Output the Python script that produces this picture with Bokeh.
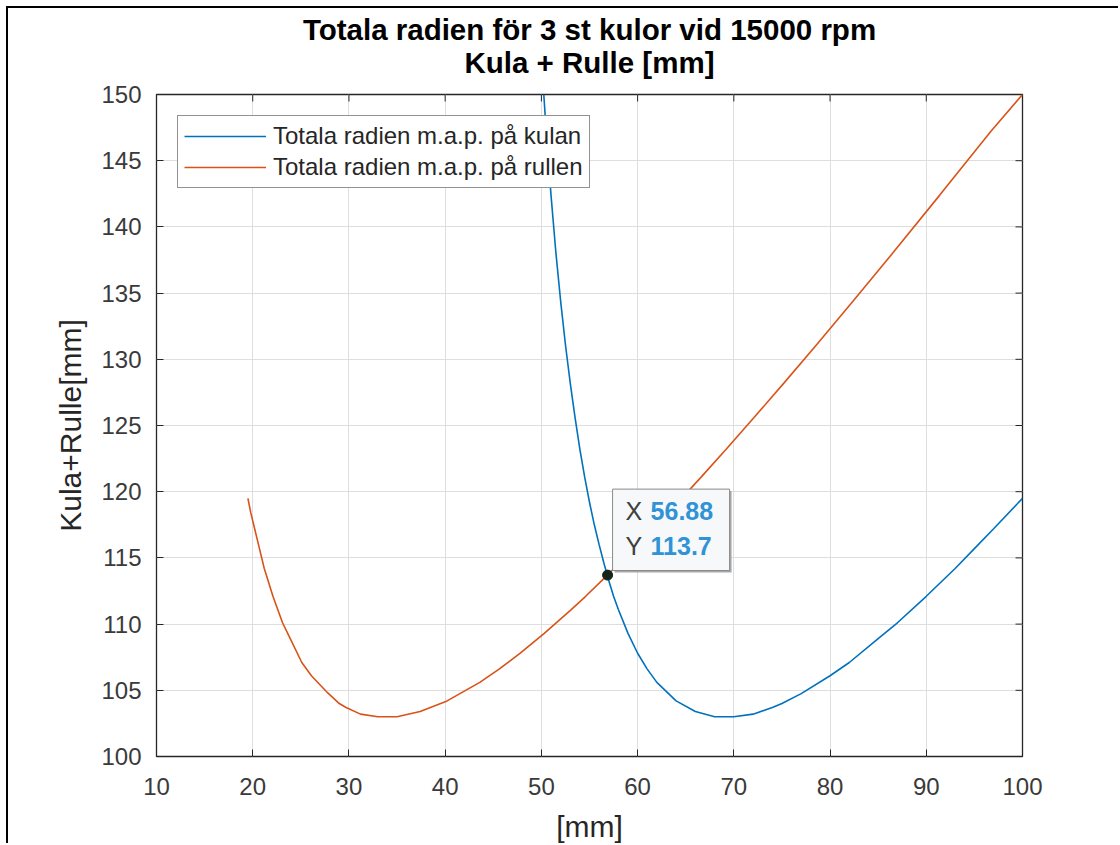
from bokeh.plotting import figure
from bokeh.models import Range1d, FixedTicker, Legend, LegendItem, Label, LinearAxis
from bokeh.embed import file_html
from bokeh.resources import INLINE

# ---------------- data ----------------
title_lines = ["Totala radien för 3 st kulor vid 15000 rpm", "Kula + Rulle [mm]"]
x_label = "[mm]"
y_label = "Kula+Rulle[mm]"
series_names = ["Totala radien m.a.p. på kulan", "Totala radien m.a.p. på rullen"]

x_ticks = [10, 20, 30, 40, 50, 60, 70, 80, 90, 100]
y_ticks = [100, 105, 110, 115, 120, 125, 130, 135, 140, 145, 150]

# total radius vs ball size (blue)
kula_x = [50.25, 50.5, 51, 51.5, 52, 52.5, 53, 53.5, 54, 54.5, 55, 55.5, 56, 56.5, 57, 57.5,
          58, 59, 60, 61, 62, 63, 64, 66, 68, 70, 72, 74, 75, 77, 80, 82, 85, 87, 90, 93, 95, 97, 100]
kula_y = [150.0, 147.2, 142.4, 138.1, 134.4, 131.1, 128.2, 125.6, 123.2, 121.1, 119.2, 117.5,
          116.0, 114.6, 113.3, 112.1, 111.1, 109.3, 107.8, 106.6, 105.6, 104.9, 104.2, 103.4,
          103.0, 103.0, 103.2, 103.7, 104.0, 104.75, 106.1, 107.1, 108.9, 110.1, 112.1, 114.2,
          115.7, 117.2, 119.5]

# total radius vs roller size (orange)
rulle_x = [19.5, 19.8, 20.2, 20.7, 21.2, 22.1, 23.1, 23.9, 25.1, 26.1, 27.8, 29.0, 29.7, 31.2,
           33.0, 35.0, 37.4, 40.2, 41.9, 43.6, 45.6, 47.8, 50.3, 53.1, 54.6, 56.3, 58.1, 60.0,
           62.0, 64.2, 66.6, 69.2, 72.1, 75.2, 78.6, 82.4, 86.6, 91.4, 96.7, 100.0]
rulle_y = [119.5, 118.4, 117.2, 115.7, 114.2, 112.1, 110.1, 108.9, 107.1, 106.1, 104.8, 104.0,
           103.7, 103.2, 103.0, 103.0, 103.4, 104.2, 104.9, 105.6, 106.6, 107.8, 109.3, 111.1,
           112.1, 113.3, 114.6, 116.0, 117.5, 119.2, 121.1, 123.2, 125.6, 128.2, 131.1, 134.4,
           138.1, 142.4, 147.2, 150.0]

tip_x = 56.88
tip_y = 113.7

# ---------------- styling ----------------
FONT = "Liberation Sans"
AX = "#262626"
BLUE = "#0072BD"
ORANGE = "#D95319"

W, H = 1112, 837
ML, MR, MT, MB = 148, 98, 86, 89
FW, FH = W - ML - MR, H - MT - MB

p = figure(width=W, height=H, output_backend="svg", toolbar_location=None, title=None,
           x_range=Range1d(x_ticks[0], x_ticks[-1]), y_range=Range1d(y_ticks[0], y_ticks[-1]),
           min_border_left=ML, min_border_right=MR, min_border_top=MT, min_border_bottom=MB,
           background_fill_color="white", border_fill_color="white")
p.styles = {"margin-top": "6px", "margin-left": "6px",
            "border-top": "2px solid #000000", "border-left": "2px solid #000000"}

p.xaxis.ticker = FixedTicker(ticks=x_ticks)
p.yaxis.ticker = FixedTicker(ticks=y_ticks)
p.xgrid.ticker = FixedTicker(ticks=x_ticks)
p.ygrid.ticker = FixedTicker(ticks=y_ticks)

for ax in p.axis:
    ax.axis_line_color = None
    ax.major_tick_in = 7
    ax.major_tick_out = 0
    ax.major_tick_line_color = AX
    ax.major_tick_line_width = 1
    ax.minor_tick_line_color = None
    ax.major_label_text_font = FONT
    ax.major_label_text_font_size = "24px"
    ax.major_label_text_color = "#3a3a3a"
    ax.axis_label_text_font = FONT
    ax.axis_label_text_font_size = "30px"
    ax.axis_label_text_font_style = "normal"
    ax.axis_label_text_color = AX

p.xaxis.axis_label = x_label
p.xaxis.major_label_standoff = 21
p.xaxis.axis_label_standoff = 12
p.yaxis.axis_label = y_label
p.yaxis.major_label_standoff = 15
p.yaxis.axis_label_standoff = 11

# two-line bold title, carried by a tick-less axis above the box (lines centred)
title_axis = LinearAxis(ticker=FixedTicker(ticks=[]), axis_label="\n".join(title_lines),
                        axis_line_color=None, major_tick_line_color=None,
                        minor_tick_line_color=None, major_label_standoff=0,
                        axis_label_standoff=16, axis_label_text_font=FONT,
                        axis_label_text_font_size="29.5px", axis_label_text_font_style="bold",
                        axis_label_text_color="#000000", axis_label_text_line_height=0.97)
p.add_layout(title_axis, "above")

p.outline_line_color = AX
p.outline_line_width = 1.3
p.xgrid.grid_line_color = "#dedede"
p.ygrid.grid_line_color = "#dedede"

sx = FW / (x_ticks[-1] - x_ticks[0])
sy = FH / (y_ticks[-1] - y_ticks[0])

# mirrored inward ticks on the top and right edges of the box
TICK = 7
p.segment(x0=x_ticks, y0=[y_ticks[-1]] * len(x_ticks), x1=x_ticks,
          y1=[y_ticks[-1] - TICK / sy] * len(x_ticks), line_color=AX, line_width=1)
p.segment(x0=[x_ticks[-1]] * len(y_ticks), y0=y_ticks, x1=[x_ticks[-1] - TICK / sx] * len(y_ticks),
          y1=y_ticks, line_color=AX, line_width=1)

r_blue = p.line(kula_x, kula_y, line_color=BLUE, line_width=1.6)
r_orange = p.line(rulle_x, rulle_y, line_color=ORANGE, line_width=1.6)

# data tip box (pixel offsets from the tip point converted via the axis scales)
bl, br, bt, bb = 5, 122, 86, 4.6
p.quad(left=[tip_x + (bl + 2) / sx], right=[tip_x + (br + 2) / sx],
       top=[tip_y + (bt - 2) / sy], bottom=[tip_y + (bb - 2) / sy],
       fill_color="#a8a8a8", line_color=None)
p.quad(left=[tip_x + bl / sx], right=[tip_x + br / sx],
       top=[tip_y + bt / sy], bottom=[tip_y + bb / sy],
       fill_color="#f7f8fa", line_color="#8a8a8a", line_width=1)
p.scatter([tip_x], [tip_y], size=10, fill_color="#13261b", line_color="#13261b")

for txt, xo, yo, col, sty in [("X", 18, 64.6, "#404040", "normal"),
                              (f"{tip_x:.2f}", 43, 64.6, "#2f93d6", "bold"),
                              ("Y", 18, 29.6, "#404040", "normal"),
                              (f"{tip_y:.1f}", 43, 29.6, "#2f93d6", "bold")]:
    p.add_layout(Label(x=tip_x, y=tip_y, x_offset=xo, y_offset=yo, text=txt,
                       text_font=FONT, text_font_size="25px", text_color=col,
                       text_font_style=sty, text_baseline="middle", text_align="left"))

legend = Legend(items=[LegendItem(label=series_names[0], renderers=[r_blue]),
                       LegendItem(label=series_names[1], renderers=[r_orange])],
                location="top_left", margin=21, padding=6, spacing=3,
                glyph_width=82, glyph_height=26, label_height=26, label_standoff=7,
                label_text_font=FONT, label_text_font_size="24px", label_text_color=AX,
                border_line_color=AX, border_line_width=1.2,
                background_fill_color="white", background_fill_alpha=1.0)
p.add_layout(legend)

open("out.html", "w").write(file_html(p, INLINE))
